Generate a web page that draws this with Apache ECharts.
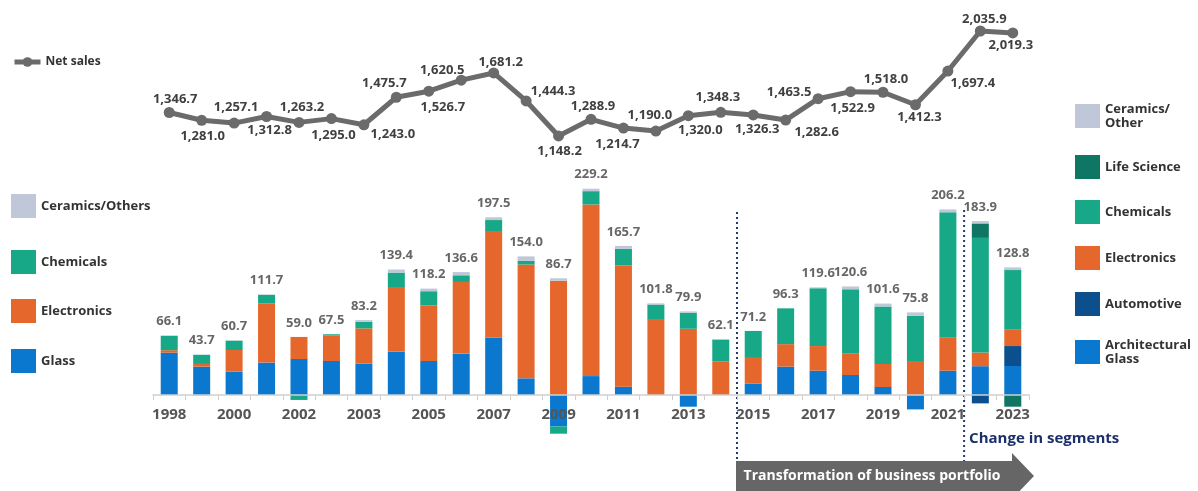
<!DOCTYPE html>
<html>
<head>
<meta charset="utf-8">
<script src="https://cdn.jsdelivr.net/npm/echarts@6/dist/echarts.min.js"></script>
<style>html,body{margin:0;padding:0;background:#fff}#c{width:1198px;height:491px}</style>
</head>
<body>
<div id="c"></div>
<script>
const years = ['1998','1999','2000','2001','2002','2002','2003','2004','2005','2006','2007','2008','2009','2010','2011','2012','2013','2014','2015','2016','2017','2018','2019','2020','2021','2022','2023'];
const netSales = [1346.7,1281.0,1257.1,1312.8,1263.2,1295.0,1243.0,1475.7,1526.7,1620.5,1681.2,1444.3,1148.2,1288.9,1214.7,1190.0,1320.0,1348.3,1326.3,1282.6,1463.5,1522.9,1518.0,1412.3,1697.4,2035.9,2019.3];
const opTotals = [66.1,43.7,60.7,111.7,59.0,67.5,83.2,139.4,118.2,136.6,197.5,154.0,86.7,229.2,165.7,101.8,79.9,62.1,71.2,96.3,119.6,120.6,101.6,75.8,206.2,183.9,128.8];
const glass = [47.0,31.5,26.0,36.0,40.0,37.8,35.0,48.0,37.8,46.0,63.7,18.5,-35.0,21.0,9.3,0,-13.0,0,12.8,31.5,27.0,22.2,8.9,-16.0,27.0,'-','-'];
const archGlass = ['-','-','-','-','-','-','-','-','-','-','-','-','-','-','-','-','-','-','-','-','-','-','-','-','-',32.0,32.2];
const automotive = ['-','-','-','-','-','-','-','-','-','-','-','-','-','-','-','-','-','-','-','-','-','-','-','-','-',-9.3,22.2];
const electronics = [2.8,3.0,24.0,66.0,24.5,28.2,39.0,71.0,61.5,79.6,118.5,126.5,127.0,190.7,134.6,83.5,73.6,37.5,28.4,25.0,27.4,24.0,25.6,37.8,37.0,15.2,18.5];
const chemicals = [16.0,10.2,10.4,9.3,-5.5,1.5,7.5,17.0,16.0,7.4,12.2,4.0,-8.0,14.8,18.5,17.0,17.8,24.1,30.0,39.8,64.2,71.2,63.8,50.3,139.0,127.4,65.9];
const lifeScience = ['-','-','-','-','-','-','-','-','-','-','-','-','-','-','-','-','-','-','-','-','-','-','-','-','-',16.0,-13.0];
const ceramicsOld = [0.3,-1.0,0.3,0.4,0,0,1.7,3.4,2.9,3.6,3.1,5.0,2.7,2.7,3.3,1.3,1.5,0.5,0,0,1.0,3.2,3.3,3.7,3.2,'-','-'];
const ceramicsNew = ['-','-','-','-','-','-','-','-','-','-','-','-','-','-','-','-','-','-','-','-','-','-','-','-','-',2.6,3.0];
// label offsets (px) of each net-sales value label from its point
const lineLabelOffsets = [[6,-13],[1,16],[2,-16],[3,14],[3,-15],[2,17],[29,10],[-12,-14],[14,16],[-19,-10],[7,-11],[27,-10],[1,15],[2,-13],[-6,16],[-6,-16],[12,15],[-3,-15],[4,14],[31,12],[-29,-6],[2,17],[3,-13],[4,13],[25,12],[4,-12],[-2,12]];

const FONT = '"Open Sans", "Noto Sans", sans-serif';
const C = {
  glass:'#0a78cf', auto:'#0b4f8c', elec:'#e6672b', chem:'#17a887', life:'#0e7662', cer:'#bfc7d8', line:'#6b6b6b'
};
const SYM = 11;

function num(v){ return typeof v === 'number' ? v : 0; }
const posTop = years.map((_, i) => [glass, archGlass, automotive, electronics, chemicals, lifeScience, ceramicsOld, ceramicsNew]
  .reduce((s, arr) => s + Math.max(0, num(arr[i])), 0));

function fmt(v){ return v.toLocaleString('en-US',{minimumFractionDigits:1, maximumFractionDigits:1}); }

const lineData = netSales.map((v, i) => ({value:v, label:{
  position:[SYM/2 + lineLabelOffsets[i][0], SYM/2 + lineLabelOffsets[i][1]], align:'center', verticalAlign:'middle'}}));

function barSeries(name, data, color){
  return {name, type:'bar', data, stack:'op', xAxisIndex:1, yAxisIndex:1, barWidth:17, clip:false, z:1,
    itemStyle:{color}, emphasis:{disabled:true}, animation:false};
}

const legendText = {fontFamily:FONT, fontWeight:'bold', fontSize:13, color:'#333', lineHeight:14};
const nameMap = {'Ceramics/Other':'Ceramics/\nOther', 'Architectural Glass':'Architectural\nGlass'};
function legendItem(name, left, cy, two){
  return {data:[name], left, top: cy - (two ? 14 : 12), icon:'rect', itemWidth:25, itemHeight:24,
    textStyle:legendText, selectedMode:false, padding:0, formatter: n => nameMap[n] || n};
}

const chart = echarts.init(document.getElementById('c'), null, {renderer:'canvas'});
chart.setOption({
  animation:false,
  grid:[
    {left:153, right:169, top:11.6, height:141.9},
    {left:153, right:169, top:170, height:225}
  ],
  xAxis:[
    {type:'category', gridIndex:0, data:years, show:false},
    {type:'category', gridIndex:1, data:years, zlevel:1, z:6,
      axisLine:{show:true, lineStyle:{color:'#cfcfcf', width:1.5}},
      axisTick:{show:true, interval:0, length:5, lineStyle:{color:'#cfcfcf'}},
      axisLabel:{interval:1, margin:12, fontFamily:FONT, fontWeight:'bold', fontSize:15, color:'#555'}}
  ],
  yAxis:[
    {type:'value', gridIndex:0, min:1000, max:2200, show:false, splitLine:{show:false}},
    {type:'value', gridIndex:1, min:0, max:250, show:false, splitLine:{show:false}}
  ],
  legend:[
    {data:['Net sales'], left:12, top:56, itemWidth:26, itemHeight:12, padding:0, selectedMode:false,
      lineStyle:{width:5},
      textStyle:{fontFamily:FONT, fontWeight:'bold', fontSize:12, color:'#333'}},
    legendItem('Ceramics/Others', 11, 206, false),
    legendItem('Chemicals', 11, 262, false),
    legendItem('Electronics', 11, 311, false),
    legendItem('Glass', 11, 361, false),
    legendItem('Ceramics/Other', 1075, 116, true),
    legendItem('Life Science', 1075, 167, false),
    legendItem('Chemicals', 1075, 212, false),
    legendItem('Electronics', 1075, 258, false),
    legendItem('Automotive', 1075, 304, false),
    legendItem('Architectural Glass', 1075, 352, true)
  ],
  series:[
    {name:'Net sales', type:'line', xAxisIndex:0, yAxisIndex:0, data:lineData,
      symbol:'circle', symbolSize:SYM, lineStyle:{color:C.line, width:5}, itemStyle:{color:C.line},
      label:{show:true, formatter: p => fmt(p.value), fontFamily:FONT, fontWeight:'bold', fontSize:13, color:'#404040'},
      labelLayout:{hideOverlap:false},
      emphasis:{disabled:true}},
    barSeries('Glass', glass, C.glass),
    barSeries('Architectural Glass', archGlass, C.glass),
    barSeries('Automotive', automotive, C.auto),
    barSeries('Electronics', electronics, C.elec),
    barSeries('Chemicals', chemicals, C.chem),
    barSeries('Life Science', lifeScience, C.life),
    barSeries('Ceramics/Others', ceramicsOld, C.cer),
    barSeries('Ceramics/Other', ceramicsNew, C.cer),
    {name:'total', type:'scatter', xAxisIndex:1, yAxisIndex:1, data:posTop, symbolSize:1,
      itemStyle:{color:'rgba(0,0,0,0)'}, emphasis:{disabled:true}, silent:true,
      label:{show:true, position:'top', distance:7, formatter: p => opTotals[p.dataIndex].toFixed(1),
        fontFamily:FONT, fontWeight:'bold', fontSize:13, color:'#404040'}}
  ]
});

const xA = (chart.convertToPixel({xAxisIndex:1}, 17) + chart.convertToPixel({xAxisIndex:1}, 18)) / 2;
const xB = (chart.convertToPixel({xAxisIndex:1}, 24) + chart.convertToPixel({xAxisIndex:1}, 25)) / 2;
const dotStyle = {stroke:'#26396b', lineWidth:2, lineDash:[2,3]};
chart.setOption({
  graphic:[
    {type:'line', shape:{x1:xA, y1:212, x2:xA, y2:461}, style:dotStyle, silent:true},
    {type:'line', shape:{x1:xB, y1:210, x2:xB, y2:461}, style:dotStyle, silent:true},
    {type:'text', left:xB + 5, top:431, style:{text:'Change in segments', fill:'#1b2f6b', font:'bold 15px ' + FONT}},
    {type:'polygon', shape:{points:[[xA-1,461],[1012,461],[1012,453],[1034,476],[1012,499],[1012,491],[xA-1,491]]},
      style:{fill:'#666666'}, silent:true},
    {type:'text', x:872, y:476, style:{text:'Transformation of business portfolio', fill:'#ffffff',
      font:'bold 14px ' + FONT, align:'center', verticalAlign:'middle'}}
  ]
});
</script>
</body>
</html>
